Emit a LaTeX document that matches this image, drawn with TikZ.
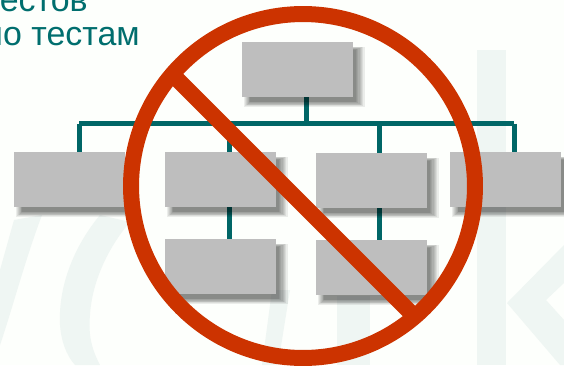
\documentclass[tikz,border=0pt]{standalone}
\usepackage{fontspec}
\setmainfont{Liberation Sans}
\usetikzlibrary{shadows,backgrounds}
\definecolor{tealbar}{HTML}{006666}
\definecolor{tealtext}{HTML}{006E6E}
\definecolor{bangred}{HTML}{CC3300}
\definecolor{boxgrey}{HTML}{BEBEBE}
\definecolor{paper}{HTML}{FDFFFC}
\definecolor{wmark}{HTML}{EFF6F3}
\begin{document}
\begin{tikzpicture}[
    x=0.02cm, y=-0.02cm,
    softshade/.style={general shadow={shadow xshift=0.12cm, shadow yshift=-0.13cm, shadow scale=#1, fill=black, opacity=0.07}},
    orgbox/.style={rectangle, fill=boxgrey, minimum width=2.22cm, minimum height=1.1cm, inner sep=0pt,
        softshade=1.09, softshade=1.07, softshade=1.05, softshade=1.03,
        softshade=1.01, softshade=0.99, softshade=0.97, softshade=0.95},
    link/.style={draw=tealbar, line width=0.1cm},
    bang/.style={draw=bangred, line width=0.32cm},
    lbl/.style={anchor=base east, inner sep=0pt, text=tealtext, font=\fontsize{19.3}{23}\selectfont},
    water/.style={fill=wmark, draw=none},
]
\useasboundingbox (0,0) rectangle (564,365);
% heading
\node[lbl] (headA) at (88,11) {естов};
\node[lbl] (headB) at (140,45) {по тестам};
% chart boxes
\node[orgbox] (top) at (297.5,69.5) {};
\node[orgbox] (boxA) at (69.5,179.5) {};
\node[orgbox] (boxB) at (220.5,179.5) {};
\node[orgbox] (boxC) at (371.5,180.5) {};
\node[orgbox] (boxD) at (505.5,179.5) {};
\node[orgbox] (subB) at (220.5,266.5) {};
\node[orgbox] (subC) at (371.5,267.5) {};
% joints on the bus
\coordinate (busL) at (79,123.5);
\coordinate (busR) at (514,123.5);
\coordinate (jTop) at (306,123.5);
\coordinate (jB) at (229,123.5);
\coordinate (jC) at (379,123.5);
\begin{scope}[on background layer]
  \fill[paper] (0,0) rectangle (564,365);
  % faint letters behind the chart
  \fill[water] (14,220) -- (42,215) .. controls (25,260) and (12,310) .. (0,345) -- (0,270) -- cycle;
  \fill[water] (100,215) .. controls (75,245) and (58,285) .. (60,325) .. controls (61,340) and (66,355) .. (75,365)
      -- (100,365) .. controls (92,350) and (88,335) .. (90,315) .. controls (92,280) and (110,245) .. (130,222) -- cycle;
  \fill[water] (290,290) -- (272,290) -- (262,365) -- (278,365) -- cycle;
  \fill[water] (337,296) rectangle (370,365);
  \fill[water] (477,50) rectangle (506,365);
  \fill[water] (507,303) -- (564,245) -- (564,283) -- (546,300) -- (564,320) -- (564,365) -- (560,365) -- cycle;
  % connectors
  \draw[link] (busL) -- (busR);
  \draw[link] (jTop) -- (jTop |- top.south);
  \draw[link] (busL) -- (busL |- boxA.north);
  \draw[link] (jB) -- (jB |- boxB.north);
  \draw[link] (jC) -- (jC |- boxC.north);
  \draw[link] (busR) -- (busR |- boxD.north);
  \draw[link] (jB |- boxB.south) -- (jB |- subB.north);
  \draw[link] (jC |- boxC.south) -- (jC |- subC.north);
\end{scope}
% prohibition sign
\coordinate (barA) at (172,74);
\coordinate (barB) at (414,316);
\draw[bang] (barA) -- (barB);
\node[circle, bang, minimum size=6.88cm, inner sep=0pt] (ring) at (303,186) {};
\end{tikzpicture}
\end{document}
